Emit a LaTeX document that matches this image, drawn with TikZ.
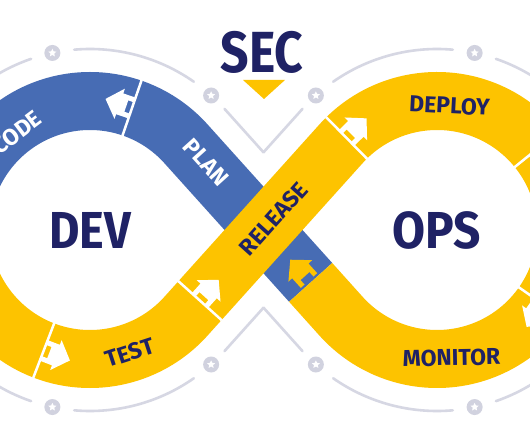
\documentclass[tikz,border=0pt]{standalone}
\usepackage{fontspec}
\usepackage{graphicx}
\setmainfont{Fira Sans}
\usetikzlibrary{calc,shapes.geometric}
\definecolor{devblue}{HTML}{476CB4}
\definecolor{devyellow}{HTML}{FDC300}
\definecolor{navy}{HTML}{1F2265}
\definecolor{ringgray}{HTML}{D6D7E3}
\definecolor{dotgray}{HTML}{D1D2DF}
\newcommand{\flowarrow}[4]{%
  \begin{scope}[shift={#1}, rotate=#2]
    \ifx#4y\draw[white, line width=2.5] (0,-29.5) -- (0,29.5);\fi
    \fill[#3] (0,-11) -- (13,-11) -- (13,-16) -- (28,0) -- (13,16) -- (13,11) -- (0,11) -- (0,6) -- (6,6) -- (6,-6) -- (0,-6) -- cycle;
  \end{scope}}
\begin{document}
\begin{tikzpicture}[x=1pt,y=1pt,
  band/.style={line width=58, line cap=butt},
  ring/.style={ringgray, line width=2.6, line cap=round},
  icon/.style={star, star points=5, star point ratio=2.1, fill=white, minimum size=8.5, inner sep=0},
  lbl/.style={font=\fontsize{23}{23}\selectfont\bfseries, text=navy, inner sep=0},
  big/.style={font=\fontsize{52}{52}\selectfont\bfseries, text=navy, inner sep=0}]
\useasboundingbox (0,0) rectangle (530,442);
\fill[white] (0,0) rectangle (530,442);
\clip (0,0) rectangle (530,442);
\coordinate (C1) at (90,212);
\coordinate (C2) at (437,212);
\coordinate (M) at (263.5,212);
\coordinate (topV) at (263.5,289.7);
\coordinate (botV) at (263.5,134.3);
% outer ring
\draw[ring] (topV) -- ($(C1)+(42:181)$);
\draw[ring] ($(C1)+(55:181)$) arc[start angle=55, end angle=95, radius=181];
\draw[ring] ($(C1)+(109:181)$) arc[start angle=109, end angle=251, radius=181];
\draw[ring] ($(C1)+(265:181)$) arc[start angle=265, end angle=305, radius=181];
\draw[ring] (botV) -- ($(C1)+(318:181)$);
\draw[ring] (topV) -- ($(C2)+(138:181)$);
\draw[ring] ($(C2)+(125:181)$) arc[start angle=125, end angle=85, radius=181];
\draw[ring] ($(C2)+(71:181)$) arc[start angle=71, end angle=-71, radius=181];
\draw[ring] ($(C2)+(-85:181)$) arc[start angle=-85, end angle=-125, radius=181];
\draw[ring] (botV) -- ($(C2)+(-138:181)$);
\foreach \a/\c [count=\i] in {48/C1,102/C1,258/C1,312/C1,132/C2,78/C2,228/C2,282/C2}{
  \fill[dotgray] ($(\c)+(\a:181)$) circle[radius=8];
  \node[icon] (ic\i) at ($(\c)+(\a:181)$) {};
}
% bands
\draw[band, devblue] (-39,212) arc[start angle=180, end angle=42, radius=129] -- ($(M)+(-48:70.5)$);
\draw[band, devyellow] (-39,212) arc[start angle=180, end angle=318, radius=129]
   -- ($(C2)+(138:129)$) arc[start angle=138, end angle=-138, radius=129]
   -- ($(M)+(-48:70.5)$);
% separators and arrows
\flowarrow{($(C1)+(71:129)$)}{161}{white}{y}
\flowarrow{($(C1)+(249:129)$)}{339}{white}{y}
\flowarrow{($(M)+(48:-95)$)}{48}{white}{y}
\flowarrow{($(C2)+(134.5:129)$)}{44.5}{white}{y}
\flowarrow{($(C2)+(39:129)$)}{-51}{white}{y}
\flowarrow{($(C2)+(-35:129)$)}{-125}{white}{y}
\flowarrow{($(M)+(-48:68)$)}{132}{devyellow}{n}
% labels
\node[lbl, text=white, rotate=37] (code) at ($(C1)+(127:122)$) {CODE};
\node[lbl, text=white, rotate=-48] (plan) at (206,280) {PLAN};
\node[lbl, rotate=18] (test) at ($(C1)+(-72:129)$) {TEST};
\node[lbl, rotate=48] (release) at ($(M)+(48:15)$) {RELEASE};
\node[lbl, rotate=-3] (deploy) at (449.5,336.5) {DEPLOY};
\node[lbl, rotate=1] (monitor) at (451.5,84.5) {MONITOR};
\node[big] (dev) at (90,212) {\scalebox{0.9}[1]{DEV}};
\node[big] (ops) at (436.5,212) {\scalebox{0.92}[1]{OPS}};
\node[big, font=\fontsize{58}{58}\selectfont\bfseries] (sec) at (262,390) {\scalebox{0.86}[1]{SEC}};
\fill[devyellow] (243,362) -- (285,362) -- (264,343) -- cycle;
\end{tikzpicture}
\end{document}
